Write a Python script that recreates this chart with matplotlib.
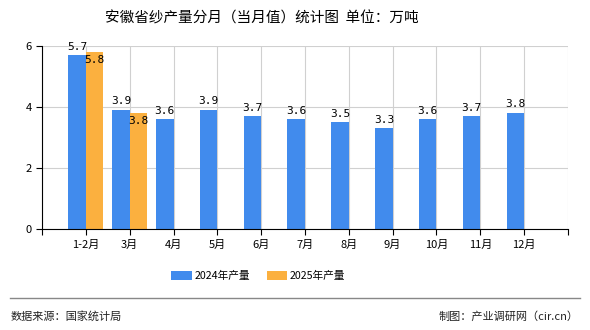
import matplotlib
matplotlib.use("Agg")
import matplotlib.pyplot as plt
import numpy as np

plt.rcParams['font.family'] = ['Noto Sans CJK SC', 'DejaVu Sans']

months = ['1-2月', '3月', '4月', '5月', '6月', '7月', '8月', '9月', '10月', '11月', '12月']
prod_2024 = [5.7, 3.9, 3.6, 3.9, 3.7, 3.6, 3.5, 3.3, 3.6, 3.7, 3.8]
prod_2025 = [5.8, 3.8]

blue = '#418bed'
orange = '#fbb03f'

fig = plt.figure(figsize=(5.9, 3.3), dpi=100)
ax = fig.add_axes([0.0712, 0.306, 0.8915, 0.5545])

x = np.arange(len(months))
w = 0.4
b1 = ax.bar(x - w / 2, prod_2024, width=w, color=blue, label='2024年产量', zorder=3)
x2 = np.arange(len(prod_2025))
b2 = ax.bar(x2 + w / 2, prod_2025, width=w, color=orange, label='2025年产量', zorder=3)

# value labels: 2024 above the bar, 2025 just inside the top
for xi, v in zip(x, prod_2024):
    ax.text(xi - w / 2, v + 0.12, f'{v}', ha='center', va='bottom', fontsize=8,
            family='DejaVu Sans Mono', zorder=4)
for xi, v in zip(x2, prod_2025):
    ax.text(xi + w / 2, v - 0.1, f'{v}', ha='center', va='top', fontsize=8,
            family='DejaVu Sans Mono', zorder=4)

ax.set_xlim(-1, len(months))
ax.set_ylim(0, 6)
ax.set_yticks([0, 2, 4, 6])
ax.set_xticks(np.arange(-1, len(months) + 1))
ax.set_xticklabels([''] + months + [''])
ax.tick_params(axis='both', labelsize=8, length=4, color='black')
ax.grid(True, color='#d0d0d0', linewidth=0.8, zorder=0)
for s in ['top', 'right']:
    ax.spines[s].set_visible(False)
ax.spines['left'].set_color('black')
ax.spines['bottom'].set_color('black')
ax.spines['bottom'].set_zorder(5)

fig.text(0.443, 0.945, '安徽省纱产量分月（当月值）统计图  单位：万吨', ha='center', va='center', fontsize=10.5)

fig.legend(handles=[b1, b2], loc='center', bbox_to_anchor=(0.438, 0.163), ncol=2, frameon=False,
           fontsize=7.7, handlelength=1.9, handleheight=0.8, handletextpad=0.3, columnspacing=1.5)

fig.add_artist(plt.Line2D([0.017, 0.983], [0.097, 0.097], color='#888888', linewidth=1))
fig.text(0.018, 0.042, '数据来源：国家统计局', ha='left', va='center', fontsize=8, color='#222222')
fig.text(0.98, 0.042, '制图：产业调研网（cir.cn）', ha='right', va='center', fontsize=8, color='#222222')

fig.savefig('out.png', dpi=100)
